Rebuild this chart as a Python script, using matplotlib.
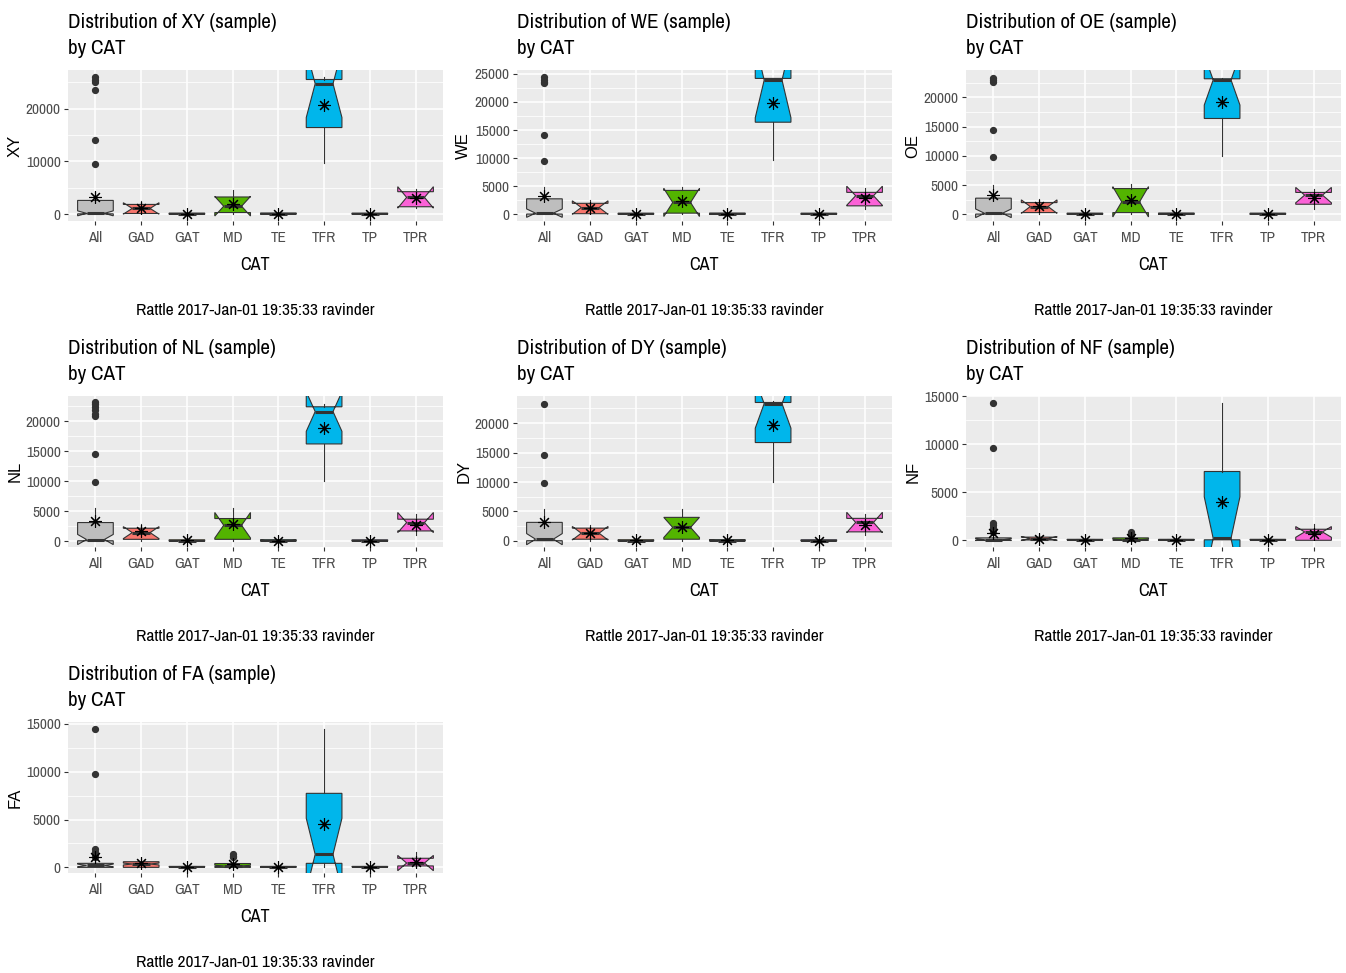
import matplotlib.pyplot as plt
from matplotlib.ticker import MultipleLocator

# ---------------- DATA ----------------
categories = ["All", "GAD", "GAT", "MD", "TE", "TFR", "TP", "TPR"]

# XY
xy_q1 = [60, 120, 0, 300, 0, 16400, 0, 1400]
xy_med = [150, 1080, 30, 1500, 40, 24700, 20, 3170]
xy_q3 = [2600, 1840, 200, 3250, 220, 25500, 200, 4250]
xy_wlo = [0, 0, 0, 0, 0, 9650, 0, 1080]
xy_whi = [4200, 2500, 450, 4500, 450, 25900, 400, 4800]
xy_clo = [-320, 0, -20, -350, -30, 18300, -20, 1140]
xy_chi = [620, 2160, 80, 3350, 110, 31100, 60, 5200]
xy_mean = [3200, 1100, 120, 1900, 80, 20600, 60, 3000]
xy_out = {"All": [25900, 25400, 25100, 23600, 14000, 9500]}

# WE
we_q1 = [40, 100, 0, 200, 0, 16400, 0, 1500]
we_med = [200, 1200, 30, 2100, 40, 23900, 20, 3300]
we_q3 = [2750, 1950, 200, 4250, 220, 24200, 200, 3900]
we_wlo = [0, 0, 0, 0, 0, 9600, 0, 900]
we_whi = [4800, 2500, 450, 4800, 450, 24300, 400, 4700]
we_clo = [-550, 0, -20, -400, -30, 17200, -20, 1600]
we_chi = [950, 2400, 80, 4600, 110, 30600, 60, 5000]
we_mean = [3300, 1200, 120, 2400, 80, 19900, 60, 2870]
we_out = {"All": [24400, 24000, 23600, 23300, 14200, 9400]}

# OE
oe_q1 = [40, 290, 0, 290, 0, 16400, 0, 1720]
oe_med = [170, 1320, 30, 2130, 40, 23000, 20, 3280]
oe_q3 = [2760, 2000, 200, 4400, 220, 23200, 200, 3740]
oe_wlo = [0, 0, 0, 0, 0, 9950, 0, 860]
oe_whi = [5000, 2600, 450, 5200, 450, 23400, 400, 4400]
oe_clo = [-570, 170, -20, -460, -30, 18700, -20, 1960]
oe_chi = [910, 2470, 80, 4720, 110, 27300, 60, 4600]
oe_mean = [3280, 1440, 120, 2400, 80, 19250, 60, 2760]
oe_out = {"All": [23400, 23000, 22700, 14400, 9800]}

# NL
nl_q1 = [40, 280, 0, 280, 0, 16200, 0, 1680]
nl_med = [250, 1400, 30, 2630, 40, 21600, 20, 3080]
nl_q3 = [3080, 2130, 200, 3750, 220, 22400, 200, 3640]
nl_wlo = [0, 0, 0, 0, 0, 10000, 0, 950]
nl_whi = [5500, 2800, 450, 5500, 450, 22900, 400, 4500]
nl_clo = [-600, 400, -20, 500, -30, 18300, -20, 1400]
nl_chi = [1100, 2400, 80, 4760, 110, 24900, 60, 4760]
nl_mean = [3360, 1680, 120, 2800, 80, 18800, 60, 2630]
nl_out = {"All": [23200, 22800, 22300, 21800, 21200, 20900, 14500, 9900]}

# DY
dy_q1 = [40, 290, 0, 290, 0, 16700, 0, 1540]
dy_med = [300, 1310, 30, 2290, 40, 23300, 20, 3140]
dy_q3 = [3150, 2170, 200, 4000, 220, 23500, 200, 3830]
dy_wlo = [0, 0, 0, 0, 0, 10000, 0, 970]
dy_whi = [5400, 2700, 450, 5400, 450, 23700, 400, 4600]
dy_clo = [-650, 160, -20, 580, -30, 19140, -20, 1420]
dy_chi = [1250, 2460, 80, 4000, 110, 27460, 60, 4860]
dy_mean = [3260, 1310, 120, 2400, 80, 19600, 60, 2740]
dy_out = {"All": [23300, 14600, 9800]}

# NF
nf_q1 = [0, 30, 0, 0, 0, 50, 0, 0]
nf_med = [60, 180, 20, 60, 20, 200, 20, 870]
nf_q3 = [250, 330, 100, 250, 100, 7170, 100, 1150]
nf_wlo = [0, 0, 0, 0, 0, 0, 0, 0]
nf_whi = [600, 500, 250, 500, 250, 14300, 250, 1680]
nf_clo = [-30, -20, 0, 0, 0, -4130, 0, 310]
nf_chi = [150, 380, 40, 120, 40, 4530, 40, 1430]
nf_mean = [730, 175, 40, 280, 40, 3950, 40, 700]
nf_out = {"All": [14270, 9620, 1850, 1570, 1330, 1150, 870],
          "MD": [870, 700, 550]}

# FA
fa_q1 = [0, 0, 0, 0, 0, 420, 0, 150]
fa_med = [200, 350, 20, 150, 20, 1360, 20, 450]
fa_q3 = [420, 590, 100, 400, 100, 7740, 100, 950]
fa_wlo = [0, 0, 0, 0, 0, 0, 0, 0]
fa_whi = [1000, 900, 250, 800, 250, 14470, 250, 1640]
fa_clo = [60, 250, 0, 80, 0, -2410, 0, -350]
fa_chi = [340, 450, 40, 220, 40, 5130, 40, 1250]
fa_mean = [1050, 420, 40, 310, 40, 4500, 70, 590]
fa_out = {"All": [14470, 9770, 1900, 1600, 1300, 1100],
          "MD": [1350, 1150, 1050]}

panels = [
    ("XY", xy_q1, xy_med, xy_q3, xy_wlo, xy_whi, xy_clo, xy_chi, xy_mean, xy_out),
    ("WE", we_q1, we_med, we_q3, we_wlo, we_whi, we_clo, we_chi, we_mean, we_out),
    ("OE", oe_q1, oe_med, oe_q3, oe_wlo, oe_whi, oe_clo, oe_chi, oe_mean, oe_out),
    ("NL", nl_q1, nl_med, nl_q3, nl_wlo, nl_whi, nl_clo, nl_chi, nl_mean, nl_out),
    ("DY", dy_q1, dy_med, dy_q3, dy_wlo, dy_whi, dy_clo, dy_chi, dy_mean, dy_out),
    ("NF", nf_q1, nf_med, nf_q3, nf_wlo, nf_whi, nf_clo, nf_chi, nf_mean, nf_out),
    ("FA", fa_q1, fa_med, fa_q3, fa_wlo, fa_whi, fa_clo, fa_chi, fa_mean, fa_out),
]

# axis ranges and tick steps per panel
ylims = [(-1300, 27300), (-1200, 25700), (-1150, 24700), (-1000, 24200),
         (-1030, 24600), (-700, 15040), (-590, 15200)]
ysteps = [10000, 5000, 5000, 5000, 5000, 5000, 5000]

fills = ["#BEBEBE", "#F8766D", "#C49A00", "#53B400",
         "#00C094", "#00B6EB", "#A58AFF", "#FB61D7"]

caption = "Rattle 2017-Jan-01 19:35:33 ravinder"

# narrow font for most text, plain sans for the rotated y titles
plt.rcParams["font.family"] = ["Liberation Sans Narrow", "Archivo Narrow", "Liberation Sans", "DejaVu Sans"]
plain = ["Liberation Sans", "DejaVu Sans"]

# ---------------- PLOT ----------------
W, H = 1346, 973
fig = plt.figure(figsize=(W / 100, H / 100), dpi=100)

pw, ph = 375, 151
for i, (name, q1, med, q3, wlo, whi, clo, chi, mean, out) in enumerate(panels):
    r, c = divmod(i, 3)
    L = 68 + 449 * c
    T = 70 + 326 * r
    ax = fig.add_axes([L / W, 1 - (T + ph) / H, pw / W, ph / H])

    stats = []
    for k, cat in enumerate(categories):
        stats.append(dict(q1=q1[k], med=med[k], q3=q3[k], whislo=wlo[k], whishi=whi[k],
                          cilo=clo[k], cihi=chi[k], mean=mean[k], fliers=out.get(cat, [])))

    bp = ax.bxp(stats, positions=range(1, 9), widths=0.78, shownotches=True,
                showmeans=True, showcaps=False, patch_artist=True, manage_ticks=False,
                boxprops=dict(edgecolor="#333333", linewidth=0.8),
                whiskerprops=dict(color="#333333", linewidth=0.8),
                medianprops=dict(color="#333333", linewidth=2.2),
                flierprops=dict(marker="o", markerfacecolor="#333333",
                                markeredgecolor="#333333", markersize=4.2),
                meanprops=dict(marker=(8, 2, 0), markeredgecolor="black",
                               markersize=9, markeredgewidth=0.8))
    for patch, col in zip(bp["boxes"], fills):
        patch.set_facecolor(col)

    ax.set_xlim(0.4, 8.6)
    ax.set_ylim(*ylims[i])
    ax.set_xticks(range(1, 9))
    ax.set_xticklabels(categories)
    ax.yaxis.set_major_locator(MultipleLocator(ysteps[i]))
    ax.yaxis.set_minor_locator(MultipleLocator(ysteps[i] / 2))

    ax.set_facecolor("#EBEBEB")
    ax.set_axisbelow(True)
    ax.grid(which="major", color="white", linewidth=1.1)
    ax.grid(which="minor", axis="y", color="white", linewidth=0.55)
    for s in ax.spines.values():
        s.set_visible(False)
    ax.tick_params(which="major", length=3, width=0.8, color="#333333",
                   labelcolor="#4D4D4D", labelsize=11)
    ax.tick_params(axis="x", pad=4.5)
    ax.tick_params(axis="y", pad=2.2)
    ax.tick_params(which="minor", length=0)

    ax.set_xlabel("CAT", fontsize=13, labelpad=8.2)
    ax.set_ylabel(name, fontsize=12, family=plain, labelpad=2.5)

    fig.text(L / W, 1 - (T - 41.5) / H, "Distribution of %s (sample)" % name,
             fontsize=15.2, va="baseline", ha="left")
    fig.text(L / W, 1 - (T - 16) / H, "by CAT", fontsize=15.2, va="baseline", ha="left")
    fig.text((L + pw / 2) / W, 1 - (T + 245) / H, caption,
             fontsize=12.5, va="baseline", ha="center")

plt.savefig("out.png", dpi=100)
